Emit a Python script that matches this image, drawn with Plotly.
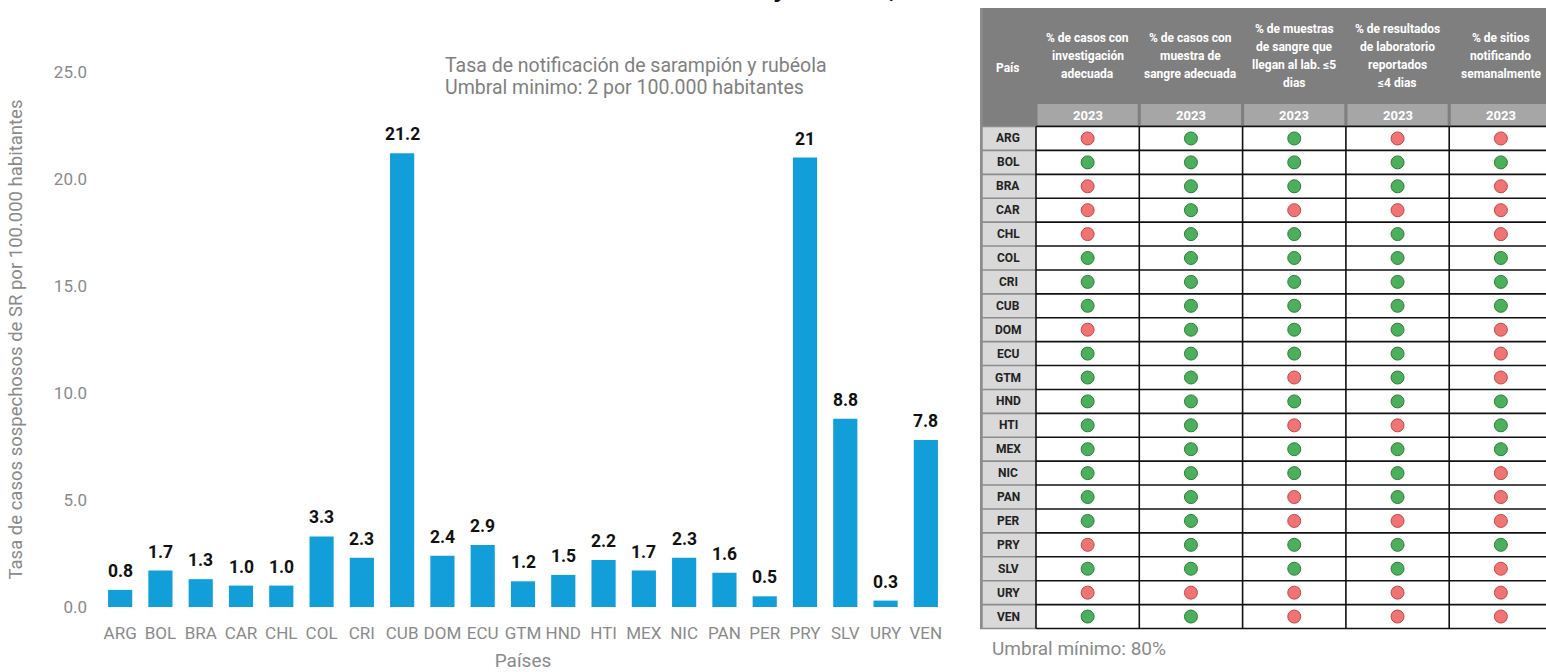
import plotly.graph_objects as go

# ---------------- data ----------------
countries = ["ARG", "BOL", "BRA", "CAR", "CHL", "COL", "CRI", "CUB", "DOM", "ECU", "GTM",
             "HND", "HTI", "MEX", "NIC", "PAN", "PER", "PRY", "SLV", "URY", "VEN"]
rates = [0.8, 1.7, 1.3, 1.0, 1.0, 3.3, 2.3, 21.2, 2.4, 2.9, 1.2,
         1.5, 2.2, 1.7, 2.3, 1.6, 0.5, 21, 8.8, 0.3, 7.8]
rate_labels = ["0.8", "1.7", "1.3", "1.0", "1.0", "3.3", "2.3", "21.2", "2.4", "2.9", "1.2",
               "1.5", "2.2", "1.7", "2.3", "1.6", "0.5", "21", "8.8", "0.3", "7.8"]
y_ticks = [0, 5, 10, 15, 20, 25]
subtitle_lines = ["Tasa de notificación de sarampión y rubéola",
                  "Umbral minimo: 2 por 100.000 habitantes"]

table_headers = [
    ["% de casos con", "investigación", "adecuada"],
    ["% de casos con", "muestra de", "sangre adecuada"],
    ["% de muestras", "de sangre que", "llegan al lab. ≤5", "dias"],
    ["% de resultados", "de laboratorio", "reportados", "≤4 dias"],
    ["% de sitios", "notificando", "semanalmente"],
]
table_year = "2023"
# G = meets threshold (green), R = below threshold (red)
ind_investigacion = ["R","G","R","R","R","G","G","G","R","G","G","G","G","G","G","G","G","R","G","R","G"]
ind_muestra       = ["G","G","G","G","G","G","G","G","G","G","G","G","G","G","G","G","G","G","G","R","G"]
ind_llegada       = ["G","G","G","R","G","G","G","G","G","G","R","G","R","G","G","R","R","G","G","R","R"]
ind_resultados    = ["R","G","G","R","G","G","G","G","G","G","G","G","R","G","G","G","R","G","G","R","R"]
ind_sitios        = ["R","G","R","R","R","G","G","G","R","R","R","G","G","G","R","R","R","G","R","R","R"]
indicators = [ind_investigacion, ind_muestra, ind_llegada, ind_resultados, ind_sitios]

# ---------------- styling ----------------
W, H = 1546, 672
BAR = "#129fd9"
GRAY_TXT = "#8a8a8a"
FONT = "Roboto"

fig = go.Figure()

fig.add_trace(go.Bar(x=countries, y=rates, marker=dict(color=BAR, line=dict(width=0)),
                     xaxis="x", yaxis="y", hoverinfo="x+y", showlegend=False))

annotations = []
for c, v, t in zip(countries, rates, rate_labels):
    annotations.append(dict(x=c, y=v, xref="x", yref="y", text=t, showarrow=False,
                            yanchor="bottom", yshift=7,
                            font=dict(family=FONT, size=17.5, color="#111111", weight="bold")))

for k, ln in enumerate(subtitle_lines):
    annotations.append(dict(x=443 / W, y=1 - (65 + 23 * k) / H, xref="paper", yref="paper",
                            xanchor="left", yanchor="middle", align="left", showarrow=False,
                            text=ln, font=dict(family=FONT, size=19.5, color="#7f7f7f")))

# cropped top title (only descenders visible)
annotations.append(dict(x=898 / W, y=1 - 4.5 / H, xref="paper", yref="paper", xanchor="right", yanchor="bottom",
                        showarrow=False, text="y rubéola,",
                        font=dict(family=FONT, size=28, color="#111111", weight="bold")))

# ---------------- table (x2/y2: column / row units) ----------------
shapes = []
ncol = len(indicators)
nrow = len(countries)
XL, XR = -0.542, 4.937
HDR_TOP, YEAR_TOP = -4.96, -0.94

shapes.append(dict(type="rect", xref="x2", yref="y2", x0=XL, x1=XR + 0.2, y0=HDR_TOP, y1=0,
                   fillcolor="#7f7f7f", line=dict(width=0), layer="below"))
for j in range(ncol):
    shapes.append(dict(type="rect", xref="x2", yref="y2", x0=j + 0.015, x1=j + 0.985, y0=YEAR_TOP, y1=-0.06,
                       fillcolor="#a6a6a6", line=dict(width=0), layer="below"))
shapes.append(dict(type="rect", xref="x2", yref="y2", x0=XL, x1=0, y0=0, y1=nrow,
                   fillcolor="#d9d9d9", line=dict(width=0), layer="below"))
for i in range(nrow + 1):
    shapes.append(dict(type="line", xref="x2", yref="y2", x0=0, x1=XR + 0.2, y0=i, y1=i,
                       line=dict(color="#111111", width=1.6)))
    shapes.append(dict(type="line", xref="x2", yref="y2", x0=XL, x1=0, y0=i, y1=i,
                       line=dict(color="#8c8c8c", width=1.6)))
for j in range(ncol):
    shapes.append(dict(type="line", xref="x2", yref="y2", x0=j, x1=j, y0=0, y1=nrow,
                       line=dict(color="#111111", width=1.6)))
shapes.append(dict(type="line", xref="x2", yref="y2", x0=XL + 0.012, x1=XL + 0.012, y0=HDR_TOP, y1=nrow,
                   line=dict(color="#8c8c8c", width=3)))

LINE = 0.753
HC = -2.95
for j, lines in enumerate(table_headers):
    n = len(lines)
    for k, ln in enumerate(lines):
        annotations.append(dict(x=j + 0.5, y=HC + (k - (n - 1) / 2) * LINE, xref="x2", yref="y2",
                                text=ln, showarrow=False,
                                font=dict(family=FONT, size=12, color="white", weight="bold")))
    annotations.append(dict(x=j + 0.5, y=-0.47, xref="x2", yref="y2", text=table_year, showarrow=False,
                            font=dict(family=FONT, size=13, color="white", weight="bold")))
annotations.append(dict(x=XL / 2, y=HDR_TOP / 2 + 0.05, xref="x2", yref="y2", text="País", showarrow=False,
                        font=dict(family=FONT, size=12, color="white", weight="bold")))
for i, c in enumerate(countries):
    annotations.append(dict(x=XL / 2, y=i + 0.5, xref="x2", yref="y2", text=c, showarrow=False,
                            font=dict(family=FONT, size=12, color="#222222", weight="bold")))

annotations.append(dict(x=990 / W, y=1 - 648 / H, xref="paper", yref="paper", xanchor="left", yanchor="middle",
                        showarrow=False, text="Umbral mínimo: 80%",
                        font=dict(family=FONT, size=19, color="#8a8a8a")))

colors = {"G": ("#4caf5c", "#2e7d3a"), "R": ("#f07474", "#c04848")}
for status in ["G", "R"]:
    xs, ys = [], []
    for j, col in enumerate(indicators):
        for i, s in enumerate(col):
            if s == status:
                xs.append(j + 0.5)
                ys.append(i + 0.5)
    fig.add_trace(go.Scatter(x=xs, y=ys, mode="markers", xaxis="x2", yaxis="y2", showlegend=False,
                             hoverinfo="skip",
                             marker=dict(size=13, color=colors[status][0],
                                         line=dict(color=colors[status][1], width=1))))

fig.update_layout(
    width=W, height=H,
    margin=dict(l=0, r=0, t=0, b=0, autoexpand=False),
    paper_bgcolor="white", plot_bgcolor="white",
    font=dict(family=FONT, color=GRAY_TXT),
    bargap=0.4,
    xaxis=dict(domain=[100 / W, 946 / W], anchor="y", showgrid=False, zeroline=False, showline=False,
               ticks="", tickfont=dict(size=17, color=GRAY_TXT), ticklabelstandoff=14, automargin=False,
               title=dict(text="Países", font=dict(size=19, color=GRAY_TXT), standoff=14)),
    yaxis=dict(domain=[1 - 607 / H, 1 - 72 / H], anchor="x", range=[0, 25], showgrid=False,
               zeroline=False, showline=False, ticks="", tickvals=y_ticks, tickformat=".1f",
               tickfont=dict(size=17, color=GRAY_TXT), ticklabelstandoff=12, automargin=False,
               title=dict(text="Tasa de casos sospechosos de SR por 100.000 habitantes",
                          font=dict(size=18.5, color=GRAY_TXT), standoff=26)),
    xaxis2=dict(domain=[980 / W, 1], anchor="y2", range=[XL, XR], visible=False, fixedrange=True),
    yaxis2=dict(domain=[0, 1], anchor="x2", range=[22.82, -5.293], visible=False, fixedrange=True),
    shapes=shapes,
    annotations=annotations,
)

fig.write_html("out.html", config={"displayModeBar": False},
               post_script="document.body.style.margin='0';")
